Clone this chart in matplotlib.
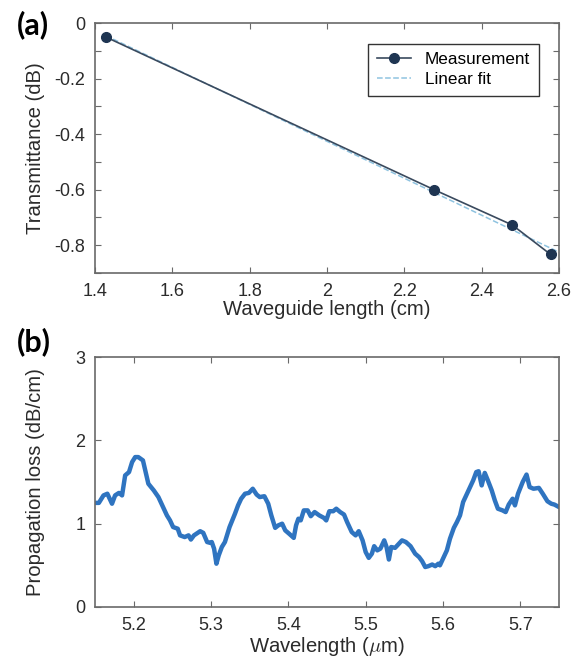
import numpy as np
import matplotlib
matplotlib.use("Agg")
import matplotlib.pyplot as plt
from matplotlib.ticker import MultipleLocator, FuncFormatter

plt.rcParams['font.family'] = ['Liberation Sans', 'DejaVu Sans']
plt.rcParams['axes.unicode_minus'] = False
plt.rcParams['mathtext.fontset'] = 'cm'

# (a) transmittance vs waveguide length
length_cm = [1.428, 2.277, 2.479, 2.578]
transmittance_db = [-0.05, -0.60, -0.727, -0.833]
fit_length_cm = [1.428, 2.60]
fit_transmittance_db = [-0.045, -0.825]

# (b) propagation loss spectrum
wavelength_um = [
    5.150, 5.155, 5.161, 5.166, 5.172, 5.176, 5.181, 5.185, 5.189, 5.194,
    5.198, 5.202, 5.206, 5.212, 5.215, 5.219, 5.226, 5.232, 5.237, 5.243,
    5.247, 5.251, 5.257, 5.260, 5.266, 5.271, 5.274, 5.278, 5.286, 5.290,
    5.295, 5.299, 5.301, 5.304, 5.307, 5.310, 5.314, 5.318, 5.324, 5.331,
    5.335, 5.339, 5.344, 5.349, 5.354, 5.359, 5.363, 5.369, 5.374, 5.378,
    5.383, 5.387, 5.392, 5.396, 5.401, 5.407, 5.410, 5.413, 5.416, 5.420,
    5.425, 5.429, 5.434, 5.440, 5.446, 5.449, 5.453, 5.458, 5.462, 5.467,
    5.472, 5.476, 5.482, 5.487, 5.491, 5.496, 5.500, 5.504, 5.508, 5.511,
    5.515, 5.519, 5.524, 5.527, 5.530, 5.533, 5.538, 5.543, 5.547, 5.552,
    5.558, 5.564, 5.569, 5.573, 5.577, 5.581, 5.586, 5.590, 5.594, 5.596,
    5.601, 5.605, 5.609, 5.614, 5.618, 5.622, 5.626, 5.631, 5.635, 5.639,
    5.643, 5.646, 5.650, 5.654, 5.658, 5.663, 5.667, 5.671, 5.677, 5.681,
    5.685, 5.690, 5.693, 5.697, 5.703, 5.708, 5.712, 5.717, 5.724, 5.729,
    5.735, 5.740, 5.744, 5.750,
]
loss_db_cm = [
    1.25, 1.25, 1.34, 1.36, 1.24, 1.34, 1.37, 1.34, 1.58, 1.62,
    1.74, 1.80, 1.80, 1.76, 1.64, 1.48, 1.40, 1.32, 1.22, 1.10,
    1.04, 0.96, 0.94, 0.86, 0.84, 0.86, 0.81, 0.86, 0.91, 0.89,
    0.78, 0.77, 0.78, 0.70, 0.52, 0.62, 0.72, 0.78, 0.96, 1.12,
    1.22, 1.30, 1.36, 1.37, 1.42, 1.35, 1.32, 1.33, 1.24, 1.10,
    0.95, 0.98, 1.00, 0.92, 0.88, 0.83, 0.98, 1.06, 1.04, 1.16,
    1.16, 1.09, 1.14, 1.10, 1.07, 1.04, 1.15, 1.15, 1.18, 1.14,
    1.11, 1.02, 0.90, 0.86, 0.91, 0.80, 0.66, 0.59, 0.64, 0.73,
    0.68, 0.70, 0.80, 0.72, 0.57, 0.72, 0.71, 0.76, 0.80, 0.78,
    0.73, 0.64, 0.60, 0.55, 0.48, 0.49, 0.51, 0.49, 0.52, 0.50,
    0.60, 0.68, 0.82, 0.95, 1.02, 1.10, 1.26, 1.36, 1.44, 1.52,
    1.62, 1.63, 1.46, 1.61, 1.52, 1.40, 1.28, 1.18, 1.16, 1.14,
    1.23, 1.30, 1.22, 1.36, 1.50, 1.59, 1.44, 1.42, 1.43, 1.36,
    1.27, 1.24, 1.23, 1.20,
]

spine_col = '#6a6a6a'
text_col = '#2b2b2b'
fmt = FuncFormatter(lambda v, p: '%g' % round(v, 3))


def style_axes(ax):
    for s in ax.spines.values():
        s.set_color(spine_col)
        s.set_linewidth(1.2)
    ax.tick_params(which='both', direction='in', top=True, right=True,
                   length=4, width=0.8, color=spine_col,
                   labelsize=13, labelcolor=text_col, pad=7)
    ax.xaxis.set_major_formatter(fmt)
    ax.yaxis.set_major_formatter(fmt)


fig = plt.figure(figsize=(5.75, 6.61), dpi=100)

ax1 = fig.add_axes([0.1652, 0.587, 0.807, 0.378])
ax1.plot(length_cm, transmittance_db, '-o', color='#3a4a5e', lw=1.2,
         markersize=7, markerfacecolor='#1f3552', markeredgecolor='#1f3552',
         label='Measurement', zorder=3)
ax1.plot(fit_length_cm, fit_transmittance_db, '--', color='#8fc3e0', lw=1.1,
         label='Linear fit', zorder=2)
ax1.set_xlim(1.4, 2.6)
ax1.set_ylim(-0.9, 0)
ax1.xaxis.set_major_locator(MultipleLocator(0.2))
ax1.yaxis.set_major_locator(MultipleLocator(0.2))
ax1.yaxis.set_minor_locator(MultipleLocator(0.1))
style_axes(ax1)
ax1.set_xlabel('Waveguide length (cm)', fontsize=14.6, color=text_col,
               labelpad=0)
ax1.set_ylabel('Transmittance (dB)', fontsize=14.6, color=text_col)
ax1.yaxis.set_label_coords(-0.108, 0.5)
leg = ax1.legend(loc='upper right', fontsize=12.3, fancybox=False,
                 edgecolor='#333333', framealpha=1, borderaxespad=1.2,
                 handlelength=2.0, labelspacing=0.3, borderpad=0.5)
leg.get_frame().set_linewidth(1.0)

ax2 = fig.add_axes([0.1652, 0.0817, 0.807, 0.378])
ax2.plot(wavelength_um, loss_db_cm, color='#2f74c0', lw=3.2,
         solid_joinstyle='round', solid_capstyle='round')
ax2.set_xlim(5.15, 5.75)
ax2.set_ylim(0, 3)
ax2.xaxis.set_major_locator(MultipleLocator(0.1))
ax2.yaxis.set_major_locator(MultipleLocator(1))
style_axes(ax2)
ax2.set_xlabel(r'Wavelength ($\mu$m)', fontsize=14.6, color=text_col,
               labelpad=1)
ax2.set_ylabel('Propagation loss (dB/cm)', fontsize=14.6, color=text_col)
ax2.yaxis.set_label_coords(-0.108, 0.5)

fig.text(0.03, 0.962, '(a)', fontsize=22, fontweight='bold',
         family=['Lato', 'DejaVu Sans'], va='center', ha='left')
fig.text(0.03, 0.483, '(b)', fontsize=22, fontweight='bold',
         family=['Lato', 'DejaVu Sans'], va='center', ha='left')

fig.savefig('out.png', dpi=100)
